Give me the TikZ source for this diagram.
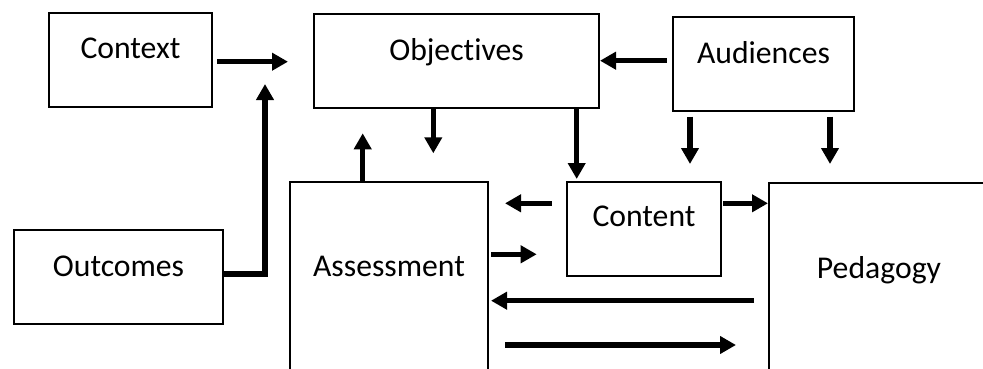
\documentclass[tikz,border=0pt]{standalone}
\usepackage{fontspec}
\setmainfont{Carlito}[Ligatures=NoCommon]
\usetikzlibrary{arrows.meta}
\begin{document}
\begin{tikzpicture}[x=1pt,y=-1pt,
  box/.style={draw,line width=2pt,inner sep=0pt,anchor=north west,
    font=\fontsize{31.7}{38}\selectfont},
  arr/.style={line width=5.5pt,-{Triangle[length=16pt,width=17pt]}}]
\useasboundingbox (0,0) rectangle (983,369);
\clip (0,0) rectangle (983,369);
% boxes
\node[box,minimum width=163pt,text height=46pt,text depth=48pt] (ctx) at (48,12) {Context};
\node[box,minimum width=285pt,text height=47pt,text depth=47pt] (obj) at (313,13) {Objectives};
\node[box,minimum width=181pt,text height=47pt,text depth=47pt] (aud) at (672,16) {Audiences};
\node[box,minimum width=209pt,text height=46pt,text depth=48pt] (out) at (13,229) {Outcomes};
\node[box,minimum width=198pt,text height=94pt,text depth=130pt] (ass) at (289,181) {Assessment};
\node[box,minimum width=154pt,text height=44pt,text depth=50pt] (con) at (566,181) {Content};
\node[box,minimum width=220pt,text height=95pt,text depth=130pt] (ped) at (768,182) {Pedagogy};
% free ends
\coordinate (a1s) at (217,61.7);
\coordinate (a1e) at (288,61.7);
\coordinate (a2e) at (265,84);
\coordinate (a3e) at (433.3,153.3);
\coordinate (a4e) at (576.7,179);
\coordinate (a5e) at (362.7,133.3);
\coordinate (a6s) at (666.7,60.7);
\coordinate (a7s) at (690,116.7);
\coordinate (a7e) at (690,164);
\coordinate (a8s) at (830,116.7);
\coordinate (a8e) at (830,164);
\coordinate (a9s) at (551.7,203.3);
\coordinate (a9e) at (505,203.3);
\coordinate (a10s) at (723.3,203.3);
\coordinate (a11e) at (536.7,254.3);
\coordinate (a12s) at (754,300.7);
\coordinate (a13s) at (505,345);
\coordinate (a13e) at (736,345);
% connectors
\draw[arr] (a1s) -- (a1e);
\draw[arr,line join=miter] (out.east |- 0,274) -| (a2e);
\draw[arr] (obj.south -| a3e) -- (a3e);
\draw[arr] (obj.south -| a4e) -- (a4e);
\draw[arr] (ass.north -| a5e) -- (a5e);
\draw[arr] (a6s) -- (a6s -| obj.east);
\draw[arr] (a7s) -- (a7e);
\draw[arr] (a8s) -- (a8e);
\draw[arr] (a9s) -- (a9e);
\draw[arr] (a10s) -- (a10s -| ped.west);
\draw[arr] ([xshift=2pt]ass.east |- a11e) -- (a11e);
\draw[arr,shorten >=2pt] (a12s) -- (a12s -| ass.east);
\draw[arr] (a13s) -- (a13e);
\end{tikzpicture}
\end{document}
